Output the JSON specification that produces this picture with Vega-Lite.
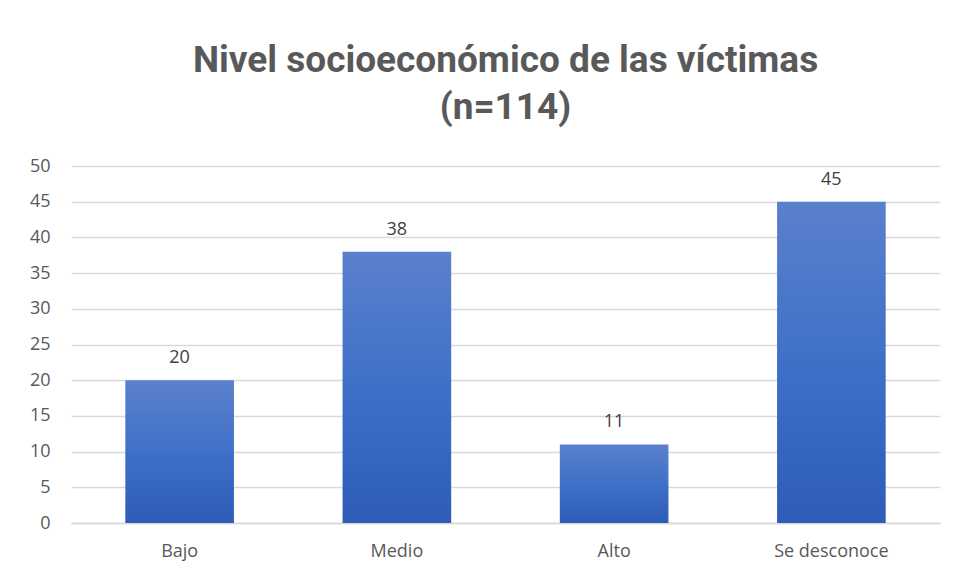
{
  "$schema": "https://vega.github.io/schema/vega-lite/v6.json",
  "width": 869,
  "height": 357,
  "autosize": {"type": "none"},
  "padding": {"left": 71, "top": 166, "right": 17, "bottom": 59},
  "background": "white",
  "title": {
    "text": ["Nivel socioeconómico de las víctimas", "(n=114)"],
    "font": "Roboto",
    "fontSize": 37,
    "fontWeight": "bold",
    "color": "#595959",
    "lineHeight": 47,
    "anchor": "middle",
    "frame": "group",
    "offset": 30
  },
  "data": {
    "values": [
      {"nivel": "Bajo", "n": 20},
      {"nivel": "Medio", "n": 38},
      {"nivel": "Alto", "n": 11},
      {"nivel": "Se desconoce", "n": 45}
    ]
  },
  "encoding": {
    "x": {
      "field": "nivel",
      "type": "nominal",
      "sort": null,
      "scale": {"paddingInner": 0.5, "paddingOuter": 0.25},
      "axis": {
        "title": null,
        "labelAngle": 0,
        "labelFont": "Open Sans",
        "labelFontSize": 18,
        "labelColor": "#595959",
        "labelPadding": 19,
        "ticks": false,
        "domainColor": "#d9d9d9",
        "domainWidth": 1.5,
        "grid": false
      }
    },
    "y": {
      "field": "n",
      "type": "quantitative",
      "scale": {"domain": [0, 50]},
      "axis": {
        "title": null,
        "values": [0, 5, 10, 15, 20, 25, 30, 35, 40, 45, 50],
        "labelFont": "Open Sans",
        "labelFontSize": 18,
        "labelColor": "#595959",
        "labelPadding": 21,
        "ticks": false,
        "domain": false,
        "gridColor": "#d9d9d9",
        "gridWidth": 1.5
      }
    }
  },
  "layer": [
    {
      "mark": {
        "type": "bar",
        "color": {
          "gradient": "linear",
          "x1": 0, "y1": 0, "x2": 0, "y2": 1,
          "stops": [
            {"offset": 0, "color": "#5b80cc"},
            {"offset": 0.5, "color": "#3f70c8"},
            {"offset": 1, "color": "#2e5cb8"}
          ]
        }
      }
    },
    {
      "mark": {
        "type": "text",
        "baseline": "alphabetic",
        "dy": -17,
        "font": "Open Sans",
        "fontSize": 18,
        "color": "#404040"
      },
      "encoding": {"text": {"field": "n", "type": "quantitative"}}
    }
  ],
  "config": {"view": {"stroke": null}}
}
